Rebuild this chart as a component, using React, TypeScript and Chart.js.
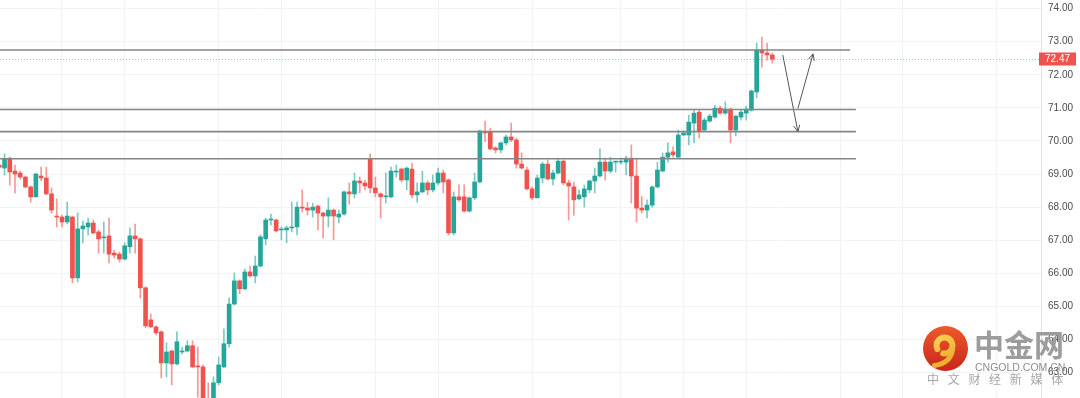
import React, { useEffect, useRef } from 'react';
import { Chart, registerables } from 'chart.js';

Chart.register(...registerables);

// ---- OHLC data (one candle per bar) ----
const opens = [
  69.27, 69.18, 69.48, 69.09, 69.03, 68.91, 68.61, 68.31, 68.94, 68.88,
  68.40, 67.73, 67.70, 67.55, 67.70, 65.86, 67.34, 67.40, 67.52, 67.25,
  67.07, 67.13, 66.61, 66.58, 66.43, 66.80, 67.13, 67.04, 65.56, 64.59,
  64.38, 64.23, 63.29, 63.65, 63.26, 63.62, 63.65, 63.81, 63.20, 63.17,
  62.20, 62.02, 62.69, 63.17, 63.87, 65.07, 65.77, 65.53, 66.04, 65.92,
  66.22, 67.04, 67.61, 67.61, 67.31, 67.31, 67.37, 67.40, 68.00, 67.97,
  67.91, 68.03, 67.82, 67.73, 67.91, 67.70, 67.79, 68.46, 68.40, 68.79,
  68.73, 69.45, 68.58, 68.40, 68.31, 68.31, 69.06, 69.15, 68.82, 69.15,
  68.37, 68.46, 68.73, 68.52, 68.73, 69.03, 68.82, 67.22, 68.31, 68.31,
  67.88, 68.28, 68.76, 70.27, 70.27, 69.79, 69.73, 69.94, 70.12, 70.03,
  69.30, 69.12, 68.55, 68.28, 68.88, 69.30, 68.85, 69.03, 69.39, 68.73,
  68.61, 68.25, 68.31, 68.52, 68.79, 68.94, 69.36, 69.09, 69.36, 69.36,
  69.36, 69.48, 68.94, 67.97, 67.91, 68.06, 68.61, 69.09, 69.51, 69.67,
  69.51, 70.18, 70.18, 70.54, 70.87, 70.33, 70.60, 70.72, 70.99, 70.84,
  70.96, 70.33, 70.72, 70.84, 70.93, 71.48, 72.75, 72.66, 72.60,
];
const highs = [
  69.33, 69.61, 69.51, 69.27, 69.09, 68.94, 68.64, 69.03, 69.21, 69.21,
  68.58, 68.25, 67.76, 68.15, 67.73, 67.82, 67.58, 67.67, 67.61, 67.31,
  67.55, 67.67, 66.70, 66.64, 66.92, 67.37, 67.49, 67.07, 65.59, 64.77,
  64.41, 64.26, 63.90, 63.68, 64.23, 63.77, 63.96, 63.96, 63.77, 63.23,
  62.69, 62.87, 63.47, 64.32, 65.26, 66.01, 65.80, 66.13, 66.22, 66.52,
  67.16, 67.67, 67.79, 67.64, 67.40, 67.43, 68.15, 68.15, 68.52, 68.15,
  68.12, 68.06, 67.85, 68.28, 67.94, 67.91, 68.49, 68.73, 69.03, 68.91,
  68.82, 69.61, 68.91, 68.43, 69.03, 69.21, 69.27, 69.18, 69.21, 69.33,
  68.73, 69.09, 68.79, 68.97, 69.18, 69.12, 68.85, 68.46, 68.67, 68.67,
  68.31, 69.03, 70.33, 70.60, 70.39, 69.82, 69.97, 70.18, 70.54, 70.09,
  69.64, 69.21, 68.61, 68.97, 69.36, 69.42, 69.12, 69.48, 69.42, 68.82,
  68.76, 68.52, 68.67, 68.82, 69.18, 69.76, 69.48, 69.51, 69.39, 69.48,
  69.54, 69.88, 69.48, 68.31, 68.22, 68.64, 69.36, 69.64, 69.94, 69.82,
  70.33, 70.30, 70.78, 70.93, 70.93, 70.69, 70.81, 71.08, 71.05, 71.18,
  70.99, 70.78, 70.93, 71.05, 71.54, 72.96, 73.14, 72.96, 72.66,
];
const lows = [
  69.18, 68.97, 68.67, 68.43, 68.85, 68.58, 68.15, 68.30, 68.79, 68.37,
  67.82, 67.40, 67.40, 67.49, 65.71, 65.74, 66.92, 67.16, 67.19, 66.61,
  66.61, 66.31, 66.46, 66.34, 66.40, 66.61, 66.61, 65.25, 64.35, 64.35,
  64.14, 62.84, 62.87, 62.63, 63.23, 63.56, 63.62, 63.14, 62.26, 62.02,
  61.72, 61.87, 62.63, 63.14, 63.77, 65.04, 65.38, 65.50, 65.89, 65.71,
  66.19, 66.86, 67.46, 67.25, 67.01, 66.92, 67.25, 67.16, 67.85, 67.76,
  67.70, 67.31, 67.07, 67.40, 67.01, 67.52, 67.76, 68.09, 68.28, 68.43,
  68.52, 68.43, 68.31, 67.67, 68.12, 68.28, 68.91, 68.76, 68.52, 68.28,
  68.15, 68.43, 68.37, 68.46, 68.67, 68.43, 67.16, 67.16, 68.18, 67.85,
  67.85, 68.22, 68.73, 69.97, 69.73, 69.64, 69.64, 69.88, 69.97, 69.18,
  69.15, 68.52, 68.22, 68.27, 68.73, 68.82, 68.67, 69.00, 68.67, 67.61,
  67.76, 68.22, 68.00, 68.43, 68.43, 68.91, 68.82, 69.03, 69.06, 69.30,
  68.97, 68.12, 67.55, 67.82, 67.67, 68.00, 68.58, 69.06, 69.36, 69.51,
  69.48, 70.15, 69.88, 69.94, 70.09, 70.30, 70.57, 70.69, 70.81, 70.81,
  69.94, 70.15, 70.63, 70.63, 70.90, 71.30, 72.23, 72.44, 72.35,
];
const closes = [
  69.21, 69.45, 69.06, 69.00, 68.91, 68.61, 68.31, 69.00, 68.88, 68.40,
  67.91, 67.70, 67.55, 67.73, 65.86, 67.34, 67.43, 67.52, 67.22, 67.04,
  67.10, 66.58, 66.55, 66.43, 66.83, 67.13, 67.04, 65.56, 64.41, 64.38,
  64.20, 63.29, 63.62, 63.26, 63.93, 63.65, 63.81, 63.17, 63.17, 62.17,
  61.87, 62.69, 63.23, 63.87, 65.07, 65.77, 65.53, 66.04, 65.92, 66.22,
  67.10, 67.61, 67.64, 67.28, 67.34, 67.37, 67.40, 68.00, 67.97, 67.91,
  68.00, 67.82, 67.73, 67.91, 67.73, 67.79, 68.46, 68.40, 68.79, 68.73,
  68.64, 68.58, 68.43, 68.31, 68.34, 69.09, 69.09, 68.82, 69.18, 68.37,
  68.46, 68.73, 68.52, 68.73, 69.03, 68.76, 67.22, 68.31, 68.22, 67.88,
  68.28, 68.76, 70.30, 70.24, 69.76, 69.73, 69.94, 70.12, 70.03, 69.30,
  69.18, 68.55, 68.28, 68.88, 69.30, 68.85, 69.03, 69.39, 68.73, 68.64,
  68.22, 68.37, 68.55, 68.79, 68.94, 69.36, 69.09, 69.36, 69.37, 69.39,
  69.48, 68.94, 67.97, 67.91, 68.06, 68.61, 69.12, 69.51, 69.64, 69.58,
  70.18, 70.24, 70.57, 70.84, 70.30, 70.63, 70.75, 70.99, 70.84, 70.96,
  70.33, 70.75, 70.87, 70.96, 71.51, 72.75, 72.66, 72.60, 72.47,
];

// horizontal support / resistance levels and where they end (bar index)
const levelValues = [72.75, 70.95, 70.28, 69.46];
const levelEnds = [162.9, 164.0, 164.0, 164.0];

// projected path arrows (bar index, price)
const arrowDown = [{ x: 150.0, y: 72.6 }, { x: 152.9, y: 70.28 }];
const arrowUp = [{ x: 152.9, y: 70.98 }, { x: 155.8, y: 72.63 }];

const lastPrice = 72.47;
const yTicks = [63, 64, 65, 66, 67, 68, 69, 70, 71, 72, 73, 74];
const xGridIdx = [12, 24, 42, 54, 72, 84, 102, 119, 131, 143, 161, 173, 191];

const X_MIN = 0.13;
const X_MAX = 199.44;
const Y_MIN = 62.23;
const Y_MAX = 74.26;

const UP = '#26a69a';
const DOWN = '#ef5350';
const UP_WICK = 'rgba(38,166,154,0.6)';
const DOWN_WICK = 'rgba(239,83,80,0.6)';

const decorPlugin = {
  id: 'decor',
  beforeDatasetsDraw(chart: any) {
    const { ctx, chartArea, scales } = chart;
    const y = scales.y.getPixelForValue(lastPrice);
    ctx.save();
    ctx.strokeStyle = 'rgba(239,83,80,0.55)';
    ctx.lineWidth = 1;
    ctx.setLineDash([1, 2]);
    ctx.beginPath();
    ctx.moveTo(chartArea.left, Math.round(y) + 0.5);
    ctx.lineTo(chartArea.right, Math.round(y) + 0.5);
    ctx.stroke();
    ctx.restore();
  },
  afterDatasetsDraw(chart: any) {
    const { ctx } = chart;
    chart.data.datasets.forEach((ds: any, di: number) => {
      if (!ds.isArrow) return;
      const pts = chart.getDatasetMeta(di).data;
      const a = pts[pts.length - 2];
      const b = pts[pts.length - 1];
      const ang = Math.atan2(b.y - a.y, b.x - a.x);
      const len = 7;
      ctx.save();
      ctx.strokeStyle = ds.borderColor;
      ctx.lineWidth = 1;
      ctx.beginPath();
      ctx.moveTo(b.x - len * Math.cos(ang - 0.45), b.y - len * Math.sin(ang - 0.45));
      ctx.lineTo(b.x, b.y);
      ctx.lineTo(b.x - len * Math.cos(ang + 0.45), b.y - len * Math.sin(ang + 0.45));
      ctx.stroke();
      ctx.restore();
    });
  },
  afterDraw(chart: any) {
    const { ctx, scales } = chart;
    // price tag
    const py = scales.y.getPixelForValue(lastPrice);
    ctx.save();
    ctx.fillStyle = DOWN;
    ctx.fillRect(1039, Math.round(py) - 6.5, 37, 13);
    ctx.fillStyle = '#ffffff';
    ctx.font = '10px "Liberation Sans", Arial, sans-serif';
    ctx.textBaseline = 'middle';
    ctx.textAlign = 'left';
    ctx.fillText(lastPrice.toFixed(2), 1045, Math.round(py) + 0.5);

    // watermark logo
    const cx = 945.5;
    const cy = 348.5;
    const g = ctx.createLinearGradient(cx, cy - 22, cx, cy + 22);
    g.addColorStop(0, '#ec5a2a');
    g.addColorStop(1, '#c8261b');
    ctx.fillStyle = g;
    ctx.beginPath();
    ctx.arc(cx, cy, 22.5, 0, Math.PI * 2);
    ctx.fill();
    const gold = ctx.createLinearGradient(cx - 12, cy - 12, cx + 10, cy + 18);
    gold.addColorStop(0, '#fbd35a');
    gold.addColorStop(1, '#e9a21f');
    ctx.strokeStyle = gold;
    ctx.lineCap = 'round';
    ctx.lineWidth = 6;
    ctx.beginPath();
    ctx.arc(cx - 1, cy - 3, 8, Math.PI * 0.85, Math.PI * 2.55);
    ctx.stroke();
    ctx.lineWidth = 5;
    ctx.beginPath();
    ctx.moveTo(cx + 7, cy + 1);
    ctx.quadraticCurveTo(cx + 5, cy + 15, cx - 11, cy + 17);
    ctx.stroke();

    // watermark text
    ctx.textAlign = 'left';
    ctx.textBaseline = 'alphabetic';
    ctx.fillStyle = '#9c9c9c';
    ctx.font = 'bold 30px "Noto Sans CJK SC", sans-serif';
    ctx.fillText('中金网', 974, 356);
    ctx.fillStyle = '#8e8e8e';
    ctx.font = '10.5px "Liberation Sans", Arial, sans-serif';
    ctx.fillText('CNGOLD.COM.CN', 975, 371);
    ctx.fillStyle = '#a6a6a6';
    ctx.font = '12px "Noto Sans CJK SC", sans-serif';
    const sub = '中文财经新媒体';
    for (let k = 0; k < sub.length; k++) {
      ctx.fillText(sub[k], 927 + k * 20.7, 384);
    }
    ctx.restore();
  },
};

export default function App() {
  const ref = useRef<HTMLCanvasElement | null>(null);

  useEffect(() => {
    document.body.style.margin = '0';
    const idx = opens.map((_, i) => i);
    const bodies = idx.map((i) => ({ x: i, y: [opens[i], closes[i]] }));
    const wicks = idx.map((i) => ({ x: i, y: [lows[i], highs[i]] }));
    const bodyColors = idx.map((i) => (closes[i] >= opens[i] ? UP : DOWN));
    const wickColors = idx.map((i) => (closes[i] >= opens[i] ? UP_WICK : DOWN_WICK));

    const levelSets = levelValues.map((v, k) => ({
      type: 'line',
      data: [
        { x: X_MIN, y: v },
        { x: levelEnds[k], y: v },
      ],
      borderColor: '#858585',
      borderWidth: 1.6,
      pointRadius: 0,
      fill: false,
      order: 0,
    }));

    const arrowSets = [arrowDown, arrowUp].map((pts) => ({
      type: 'line',
      data: pts,
      borderColor: '#555555',
      borderWidth: 1,
      pointRadius: 0,
      fill: false,
      order: 0,
      isArrow: true,
    }));

    const chart = new Chart(ref.current as HTMLCanvasElement, {
      type: 'bar',
      data: {
        datasets: [
          ...levelSets,
          ...arrowSets,
          {
            type: 'bar',
            data: bodies,
            backgroundColor: bodyColors,
            barThickness: 4,
            minBarLength: 1,
            grouped: false,
            borderWidth: 0,
            order: 1,
          },
          {
            type: 'bar',
            data: wicks,
            backgroundColor: wickColors,
            barThickness: 1,
            grouped: false,
            borderWidth: 0,
            order: 2,
          },
        ] as any,
      },
      options: {
        responsive: true,
        maintainAspectRatio: false,
        animation: false,
        layout: { padding: 0 },
        plugins: { legend: { display: false }, tooltip: { enabled: false } },
        scales: {
          x: {
            type: 'linear',
            min: X_MIN,
            max: X_MAX,
            offset: false,
            afterBuildTicks: (s: any) => {
              s.ticks = xGridIdx.map((v) => ({ value: v }));
            },
            afterFit: (s: any) => {
              s.height = 0;
              s.paddingLeft = 0;
              s.paddingRight = 0;
            },
            ticks: { display: false },
            grid: { color: '#f0f3fa', drawTicks: false, offset: false },
            border: { display: false },
          },
          y: {
            type: 'linear',
            position: 'right',
            min: Y_MIN,
            max: Y_MAX,
            afterBuildTicks: (s: any) => {
              s.ticks = yTicks.map((v) => ({ value: v }));
            },
            afterFit: (s: any) => {
              s.width = 39;
              s.paddingTop = 0;
              s.paddingBottom = 0;
            },
            grid: { color: '#f0f3fa', drawTicks: false },
            border: { color: '#e0e3eb' },
            ticks: {
              padding: 7,
              color: '#4a4a4a',
              font: { size: 10, family: '"Liberation Sans", Arial, sans-serif' },
              callback: (v: any) => Number(v).toFixed(2),
            },
          },
        },
      } as any,
      plugins: [decorPlugin],
    });
    return () => chart.destroy();
  }, []);

  return (
    <div
      style={{
        position: 'fixed',
        left: 0,
        top: 0,
        width: 1080,
        height: 398,
        background: '#ffffff',
      }}
    >
      <canvas ref={ref} />
    </div>
  );
}
